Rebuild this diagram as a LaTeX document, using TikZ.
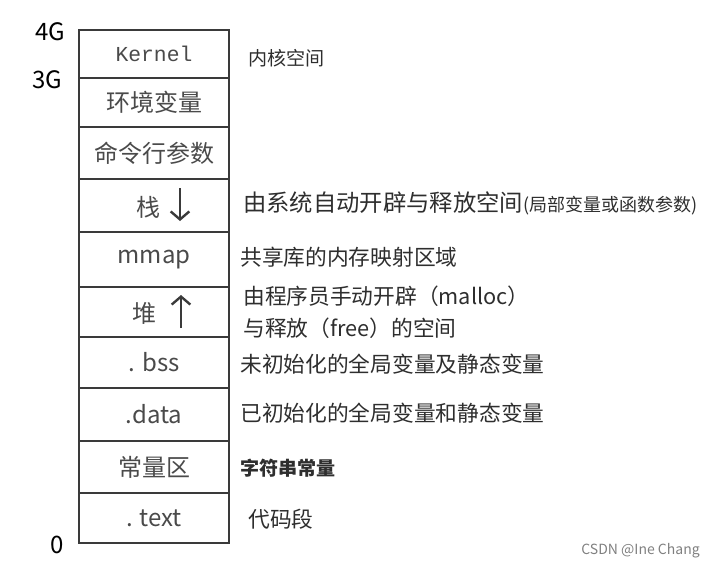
\documentclass[tikz,border=0pt]{standalone}
\usepackage{fontspec}
\setmainfont{Noto Sans CJK SC}
\newfontfamily\kernelfont{Liberation Mono}
\usetikzlibrary{arrows.meta,positioning}
\definecolor{edgegray}{HTML}{3A3A3A}
\definecolor{labgray}{HTML}{4A4A4A}
\definecolor{txtgray}{HTML}{2E2E2E}
\tikzset{
  seg/.style={draw=edgegray, line width=1.9pt, rectangle, minimum width=112.5pt, inner sep=0pt, text=labgray, font=\fontsize{18}{20}\selectfont},
  seglbl/.style={inner sep=0pt, text=labgray, font=\fontsize{18}{20}\selectfont},
  desc/.style={anchor=west, align=left, inner sep=0pt, text=txtgray, font=\fontsize{16.3}{24}\selectfont},
  descsmall/.style={desc, font=\fontsize{14.3}{18}\selectfont},
  addr/.style={inner sep=0pt, text=black, font=\fontsize{18}{20}\selectfont},
  growarrow/.style={-{Straight Barb[length=6pt,width=14pt]}, line width=1.8pt, edgegray}
}

\begin{document}
\begin{tikzpicture}[x=0.75pt,y=-0.75pt]
  \useasboundingbox (0,0) rectangle (715,572);
  % address space segments, top to bottom
  \node[seg,minimum height=36pt] (kernel) at (154,54) {\kernelfont\fontsize{16}{18}\selectfont Kernel};
  \node[seg,minimum height=36.75pt] (env) at (154,102.5) {环境变量};
  \node[seg,minimum height=39pt] (args) at (154,153) {命令行参数};
  \node[seg,minimum height=39.75pt] (stack) at (154,205.5) {};
  \node[seg,minimum height=41.25pt] (mmap) at (154,259.5) {mmap};
  \node[seg,minimum height=37.5pt] (heap) at (154,312) {};
  \node[seg,minimum height=38.25pt] (bss) at (154,362.5) {. bss};
  \node[seg,minimum height=39.75pt] (data) at (154,414.5) {.data};
  \node[seg,minimum height=39pt] (const) at (154,467) {常量区};
  \node[seg,minimum height=37.5pt] (text) at (154,518) {. text};

  % growth directions
  \node[seglbl] (stacklbl) at (148,207) {栈};
  \coordinate (stacktop) at (180,188);
  \coordinate (stackbot) at (180,221);
  \draw[growarrow] (stacktop) -- (stackbot);
  \node[seglbl] (heaplbl) at (144,313) {堆};
  \coordinate (heapbot) at (181,328);
  \coordinate (heaptop) at (181,295);
  \draw[growarrow] (heapbot) -- (heaptop);

  % addresses
  \node[addr] (a4g) at (50,32) {4G};
  \node[addr] (a3g) at (47,80) {3G};
  \node[addr] (a0) at (57,545) {0};

  % descriptions
  \node[descsmall] (kerneldesc) at (248,58) {内核空间};
  \node[desc] (stackdesc) at (243,203) {{\fontsize{17.5}{20}\selectfont 由系统自动开辟与释放空间}{\fontsize{13.5}{16}\selectfont (局部变量或函数参数)}};
  \node[desc] (mmapdesc) at (240,257) {共享库的内存映射区域};
  \node[desc] (heapdesc) at (243,312) {由程序员手动开辟（malloc）\\与释放（free）的空间};
  \node[desc] (bssdesc) at (240,364) {未初始化的全局变量及静态变量};
  \node[desc] (datadesc) at (240,413) {已初始化的全局变量和静态变量};
  \node[descsmall] (constdesc) at (240,468) {\bfseries 字符串常量};
  \node[desc] (textdesc) at (248,519) {代码段};

  \node[anchor=east, inner sep=0pt, text=gray, font=\fontsize{10.5}{12}\selectfont] (mark) at (700,551) {CSDN @Ine Chang};
\end{tikzpicture}
\end{document}
